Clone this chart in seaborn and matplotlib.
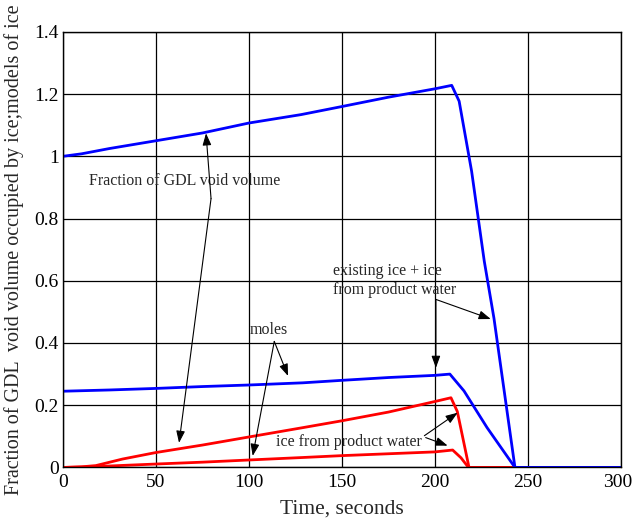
import numpy as np
import pandas as pd
import matplotlib
matplotlib.use("Agg")
import matplotlib.pyplot as plt
import matplotlib.transforms as mtransforms
import seaborn as sns

# Time (s) and ice fractions for each curve
t_total_vol = [0, 10, 25, 50, 75, 100, 128, 150, 175, 200, 209, 213, 219.7, 226.5, 231.7, 243, 270, 300]
v_total_vol = [1.0, 1.008, 1.025, 1.05, 1.075, 1.107, 1.134, 1.16, 1.19, 1.217, 1.228, 1.177, 0.952, 0.663, 0.48, 0.0, 0.0, 0.0]

t_total_mol = [0, 25, 50, 75, 100, 129, 150, 175, 200, 208, 215.6, 228, 243, 270, 300]
v_total_mol = [0.245, 0.249, 0.254, 0.260, 0.265, 0.272, 0.280, 0.289, 0.296, 0.300, 0.246, 0.128, 0.0, 0.0, 0.0]

t_prod_vol = [0, 10, 17.7, 32, 50, 75, 100, 129, 150, 175, 200, 208.6, 212, 218.3, 243]
v_prod_vol = [0.0, 0.002, 0.006, 0.027, 0.048, 0.072, 0.098, 0.128, 0.150, 0.178, 0.212, 0.224, 0.18, 0.0, 0.0]

t_prod_mol = [0, 15, 30, 50, 75, 100, 129, 150, 175, 200, 209.5, 214, 218, 243]
v_prod_mol = [0.0, 0.002, 0.006, 0.011, 0.017, 0.024, 0.032, 0.038, 0.044, 0.050, 0.056, 0.031, 0.0, 0.0]

x_ticks = [0, 50, 100, 150, 200, 250, 300]
y_ticks = [0, 0.2, 0.4, 0.6, 0.8, 1.0, 1.2, 1.4]
y_tick_labels = ["0", "0.2", "0.4", "0.6", "0.8", "1", "1.2", "1.4"]

sns.set_theme(style="white")
plt.rcParams["font.family"] = ["Liberation Serif", "DejaVu Serif"]

fig = plt.figure(figsize=(6.33, 5.22), dpi=100)
ax = fig.add_axes([0.0995, 0.1045, 0.8815, 0.8345])

series = [
    (t_prod_vol, v_prod_vol, "red"),
    (t_prod_mol, v_prod_mol, "red"),
    (t_total_vol, v_total_vol, "blue"),
    (t_total_mol, v_total_mol, "blue"),
]
for t, v, c in series:
    df = pd.DataFrame({"time": t, "frac": v})
    sns.lineplot(data=df, x="time", y="frac", ax=ax, color=c, lw=2.0,
                 sort=False, estimator=None)

ax.set_xlim(0, 300)
ax.set_ylim(0, 1.4)
ax.set_xticks(x_ticks)
ax.set_xticklabels([str(x) for x in x_ticks])
ax.set_yticks(y_ticks)
ax.set_yticklabels(y_tick_labels)
ax.grid(True, color="black", lw=0.9)
ax.set_axisbelow(True)
for s in ax.spines.values():
    s.set_color("black")
    s.set_linewidth(1.0)
ax.tick_params(axis="both", direction="in", labelsize=14, colors="black",
               length=4)
ax.tick_params(axis="y", pad=3)
ax.tick_params(axis="x", pad=5)

# keep the last time label inside the figure edge
last = ax.get_xticklabels()[-1]
last.set_transform(last.get_transform() +
                   mtransforms.ScaledTranslation(-3 / 100, 0, fig.dpi_scale_trans))

ax.set_xlabel("Time, seconds", fontsize=15.5)
ax.set_ylabel("Fraction of GDL  void volume occupied by ice;models of ice",
              fontsize=14.5)
ax.yaxis.set_label_coords(-0.087, 0.5)
ax.xaxis.set_label_coords(0.5, -0.096)
ax.xaxis.label.set_va("center")
ax.yaxis.label.set_va("center")

arrow = dict(arrowstyle="-|>,head_length=0.6,head_width=0.22", color="black",
             lw=0.8, mutation_scale=12, shrinkA=0, shrinkB=0)
fs = 11.5

# "Fraction of GDL void volume" callout
ax.text(65.6, 0.92, "Fraction of GDL void volume", fontsize=fs, ha="center", va="center")
ax.annotate("", xy=(76.9, 1.074), xytext=(79.6, 0.864), arrowprops=arrow)
ax.annotate("", xy=(62.4, 0.079), xytext=(79.6, 0.864), arrowprops=arrow)

# "moles" callout
ax.text(110.8, 0.441, "moles", fontsize=fs, ha="center", va="center")
ax.annotate("", xy=(121, 0.294), xytext=(113.6, 0.405), arrowprops=arrow)
ax.annotate("", xy=(102, 0.037), xytext=(113.6, 0.405), arrowprops=arrow)

# "existing ice + ice from product water" callout
ax.text(145, 0.600, "existing ice + ice\nfrom product water", fontsize=fs,
        ha="left", va="center", linespacing=1.25)
ax.annotate("", xy=(230, 0.477), xytext=(200.5, 0.54), arrowprops=arrow)
ax.annotate("", xy=(200.5, 0.32), xytext=(200.5, 0.54), arrowprops=arrow)

# "ice from product water" callout
ax.text(114.5, 0.082, "ice from product water", fontsize=fs, ha="left", va="center")
ax.annotate("", xy=(212.2, 0.176), xytext=(194.3, 0.102), arrowprops=arrow)
ax.annotate("", xy=(206.8, 0.07), xytext=(195, 0.096), arrowprops=arrow)

fig.savefig("out.png", dpi=100)
